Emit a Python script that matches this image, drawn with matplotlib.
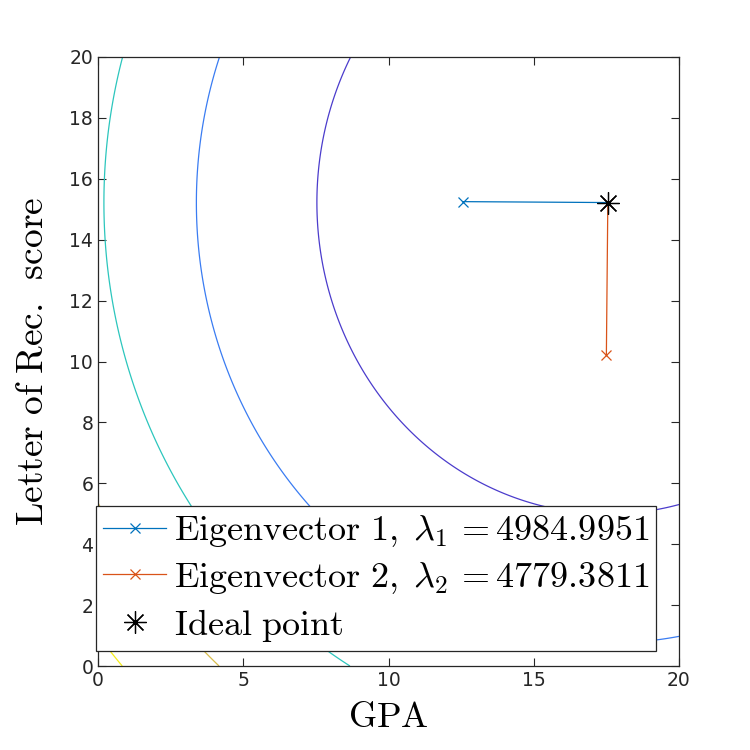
import numpy as np
import matplotlib
matplotlib.use("Agg")
import matplotlib.pyplot as plt

plt.rcParams['mathtext.fontset'] = 'cm'
plt.rcParams['font.family'] = ['DejaVu Sans']

# data
ideal_point = [17.55, 15.22]
eigenvalues = [4984.9951, 4779.3811]
ev1_end = [12.55, 15.25]
ev2_end = [17.50, 10.22]
contour_levels = [5e5, 1e6, 1.5e6, 2e6, 2.5e6]
contour_colors = ['#4b3ccc', '#3a7cf2', '#2cc6bd', '#d9bd4c', '#f6ee1a']
xticks = [0, 5, 10, 15, 20]
yticks = list(range(0, 21, 2))

fig = plt.figure(figsize=(7.5, 7.5), dpi=100)
ax = fig.add_axes([98/750, 1-666/750, (679-98)/750, (666-57)/750])

gx = np.linspace(0, 20, 401)
gy = np.linspace(0, 20, 401)
X, Y = np.meshgrid(gx, gy)
Z = eigenvalues[0]*(X-ideal_point[0])**2 + eigenvalues[1]*(Y-ideal_point[1])**2
ax.contour(X, Y, Z, levels=contour_levels, colors=contour_colors, linewidths=0.9)

ax.plot([ideal_point[0], ev1_end[0]], [ideal_point[1], ev1_end[1]], '-x',
        color=(0, 0.447, 0.741), lw=0.9, ms=7, mew=0.9,
        label=r'$\mathrm{Eigenvector\ 1,}\;\lambda_1\,{=}\mathrm{4984.9951}$')
ax.plot([ideal_point[0], ev2_end[0]], [ideal_point[1], ev2_end[1]], '-x',
        color=(0.85, 0.325, 0.098), lw=0.9, ms=7, mew=0.9,
        label=r'$\mathrm{Eigenvector\ 2,}\;\lambda_2\,{=}\mathrm{4779.3811}$')
ax.plot([ideal_point[0]], [ideal_point[1]], linestyle='none', marker=(8, 2, 0),
        color='black', ms=16, mew=0.9, label=r'$\mathrm{Ideal\ point}$')

ax.set_xlim(0, 20)
ax.set_ylim(0, 20)
ax.set_xticks(xticks)
ax.set_yticks(yticks)
ax.tick_params(direction='in', top=True, right=True, labelsize=13.5,
               colors='#262626', length=6, width=0.8)
for s in ax.spines.values():
    s.set_color('#262626')
    s.set_linewidth(0.9)

ax.set_xlabel(r'$\mathrm{GPA}$', fontsize=26, labelpad=7)
ax.set_ylabel(r'$\mathrm{Letter\ of\ Rec.\ \,score}$', fontsize=27, labelpad=13)

leg = ax.legend(loc='upper left', bbox_to_anchor=(96/750, 1-506/750),
                bbox_transform=fig.transFigure, borderaxespad=0,
                fontsize=26, frameon=True, fancybox=False, framealpha=1,
                edgecolor='#262626', handlelength=1.75, handletextpad=0.2,
                borderpad=0.2, labelspacing=0.3)
leg.get_frame().set_linewidth(0.9)

fig.savefig('out.png', dpi=100)
